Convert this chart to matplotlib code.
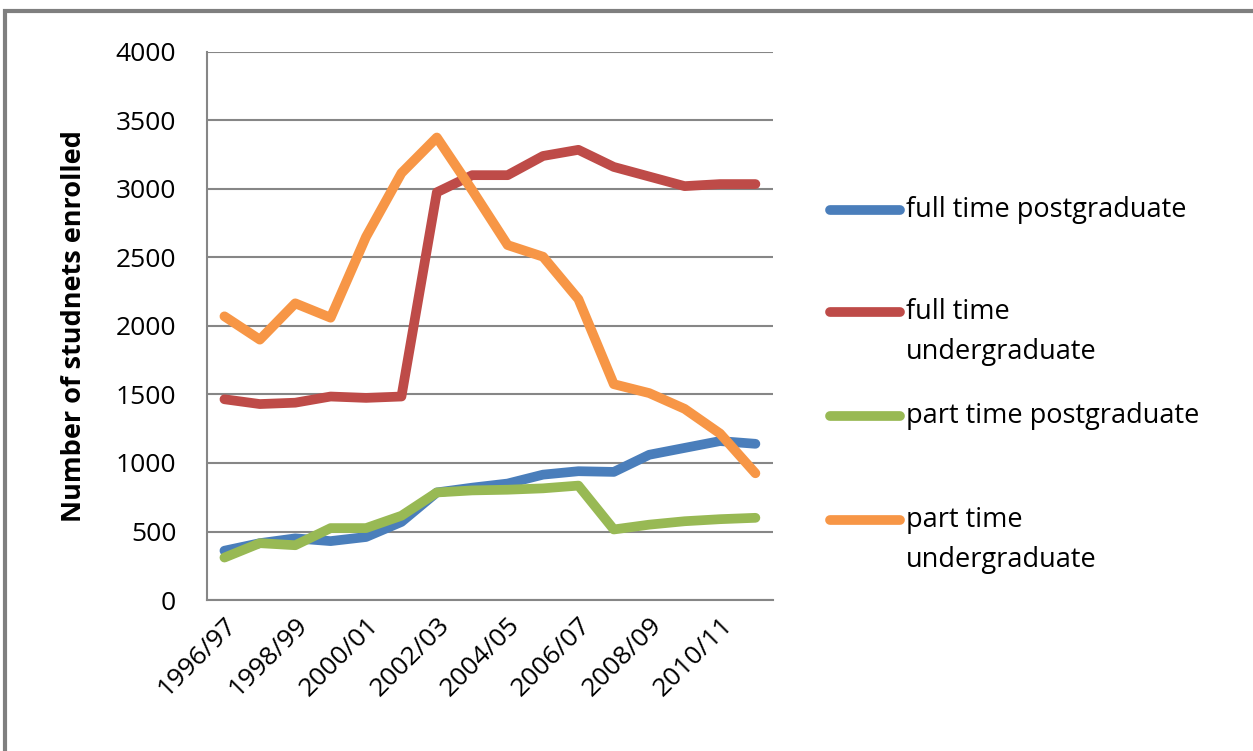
import numpy as np
import matplotlib
matplotlib.use("Agg")
import matplotlib.pyplot as plt
from matplotlib.lines import Line2D
from matplotlib.patches import Rectangle

# data
years = ["1996/97", "1997/98", "1998/99", "1999/00", "2000/01", "2001/02",
         "2002/03", "2003/04", "2004/05", "2005/06", "2006/07", "2007/08",
         "2008/09", "2009/10", "2010/11", "2011/12"]
ft_post = [360, 415, 450, 430, 460, 570, 785, 820, 850, 915, 940, 935, 1060, 1110, 1160, 1140]
ft_under = [1465, 1430, 1440, 1485, 1475, 1485, 2975, 3100, 3100, 3240, 3285, 3160, 3090, 3020, 3035, 3035]
pt_post = [310, 415, 400, 525, 525, 615, 785, 800, 805, 815, 835, 515, 550, 575, 590, 600]
pt_under = [2070, 1900, 2165, 2060, 2650, 3115, 3375, 2990, 2590, 2505, 2195, 1575, 1510, 1395, 1215, 925]

series = [ft_post, ft_under, pt_post, pt_under]
names = ["full time postgraduate", "full time\nundergraduate",
         "part time postgraduate", "part time\nundergraduate"]
colors = ["#4A7EBB", "#BE4B48", "#98B954", "#F79646"]

plt.rcParams['font.family'] = ['Open Sans', 'DejaVu Sans']

W, H = 1253, 751
fig = plt.figure(figsize=(W / 100, H / 100), dpi=100)
ax = fig.add_axes([0.165, 0.201, 0.452, 0.730])

x = np.arange(len(years))
for vals, c in zip(series, colors):
    ax.plot(x, vals, color=c, lw=7, solid_capstyle='round', solid_joinstyle='round')

ax.set_xlim(-0.5, len(years) - 0.5)
ax.set_ylim(0, 4000)
ax.set_yticks(range(0, 4001, 500))
ax.set_xticks(x[::2])
ax.set_xticklabels(years[::2], rotation=45, ha='right', rotation_mode='anchor', fontsize=19)
ax.tick_params(axis='y', labelsize=19, length=0, pad=22)
ax.tick_params(axis='x', length=0, pad=9)
ax.grid(axis='y', color='#868686', lw=1.5)
ax.set_axisbelow(True)
for s in ['top', 'right']:
    ax.spines[s].set_visible(False)
for s in ['left', 'bottom']:
    ax.spines[s].set_color('#868686')
    ax.spines[s].set_linewidth(1.5)
ax.set_ylabel("Number of studnets enrolled", fontsize=19.5, fontweight='bold')
ax.yaxis.set_label_coords(-0.212, 0.5)

# legend drawn by hand so the line sits beside the first text line
leg_y = [210, 312, 416, 520]
for name, c, yp in zip(names, colors, leg_y):
    fy = 1 - yp / H
    fig.add_artist(Line2D([830 / W, 900 / W], [fy, fy], color=c, lw=7,
                          solid_capstyle='round', transform=fig.transFigure))
    for k, line in enumerate(name.split("\n")):
        fig.text(906 / W, 1 - (yp + 7 + 40 * k) / H, line, fontsize=19.5,
                 va='baseline', ha='left')

# outer frame
fig.add_artist(Rectangle((0.004, -0.01), 1.1, 0.995, transform=fig.transFigure,
                         fill=False, edgecolor='#7f7f7f', lw=3))

fig.savefig("out.png", dpi=100)
